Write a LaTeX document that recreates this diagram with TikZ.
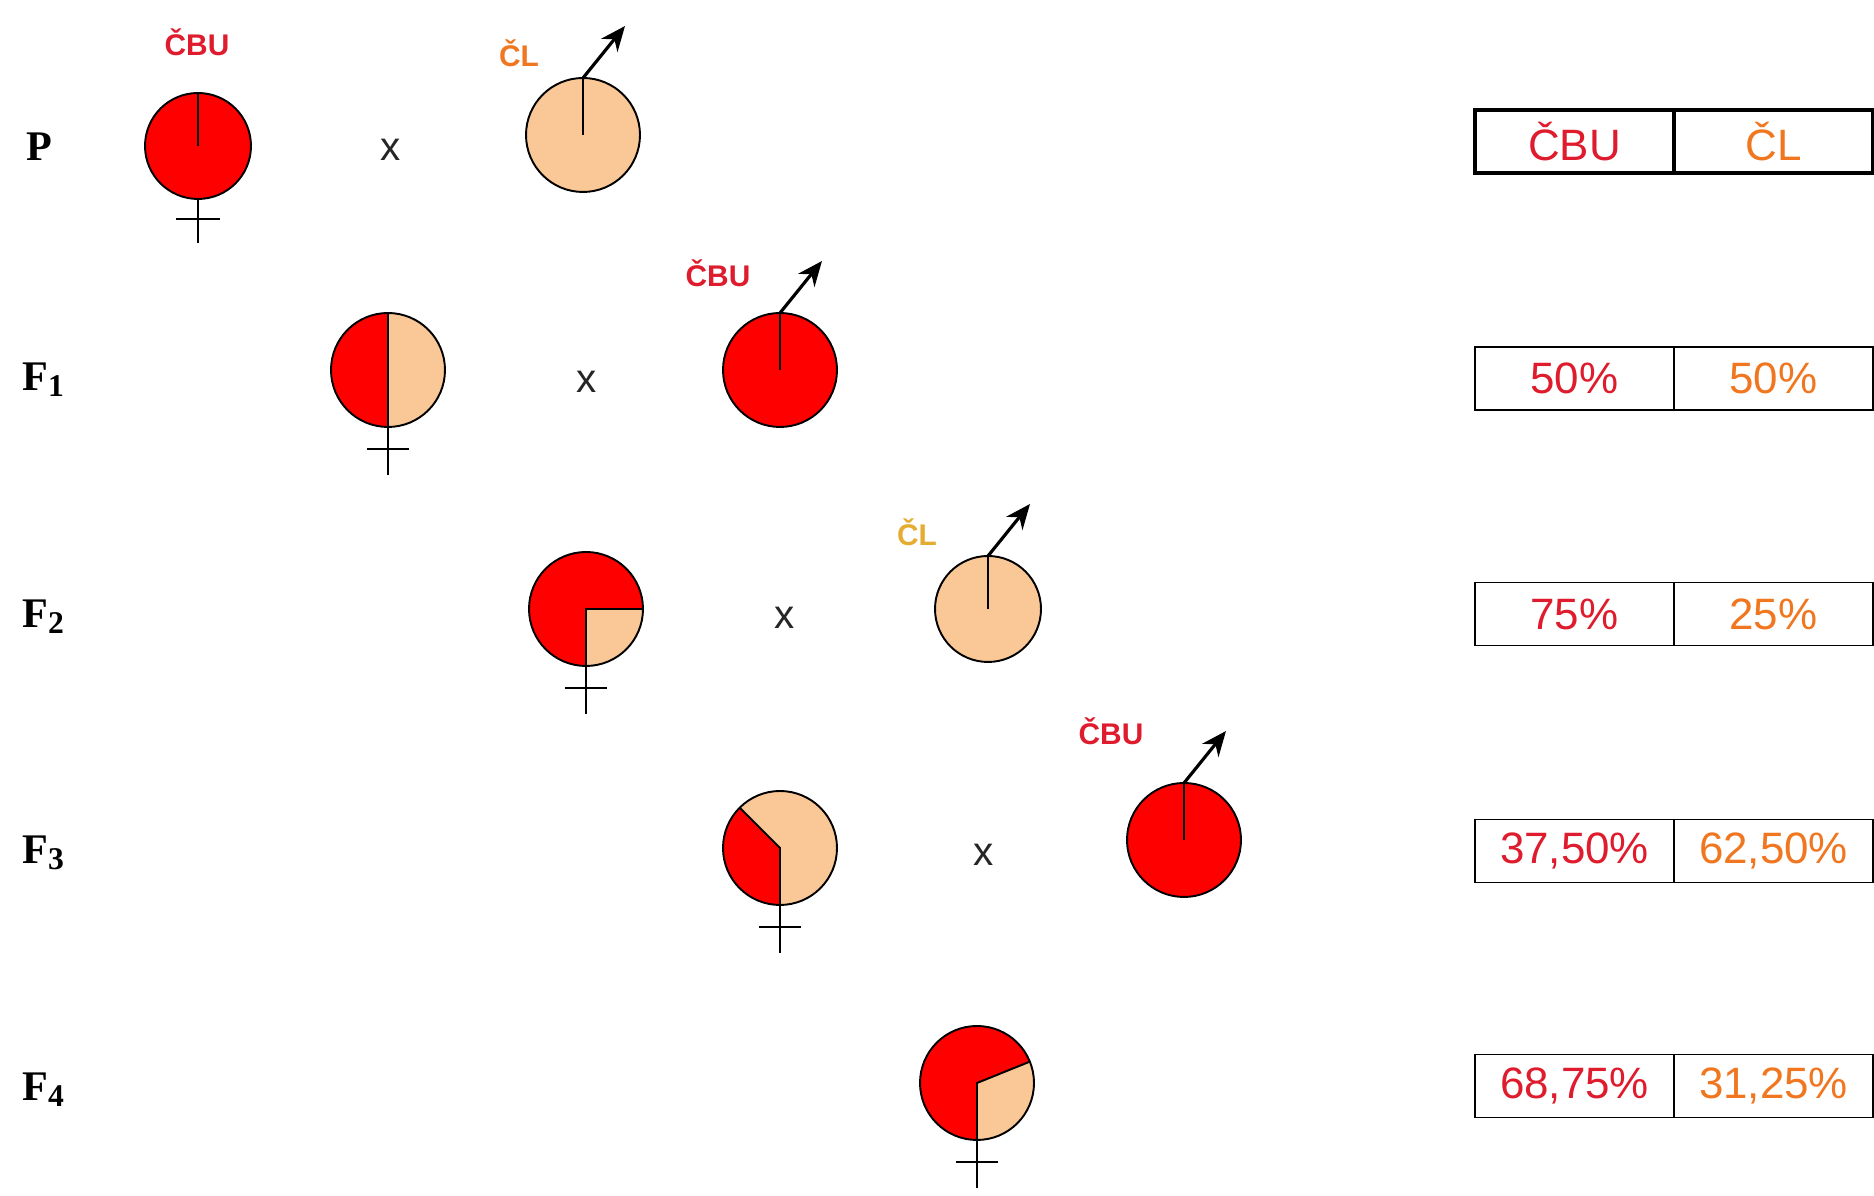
\documentclass[tikz,border=0pt]{standalone}
\usepackage{fontspec}
\setmainfont{Liberation Serif}
\setsansfont{Liberation Sans}
\usepackage{tikz}
\usetikzlibrary{arrows.meta,calc}

\definecolor{cbured}{RGB}{255,0,0}
\definecolor{clpeach}{RGB}{250,200,150}
\definecolor{cbutext}{RGB}{222,28,45}
\definecolor{cltext}{RGB}{240,118,32}
\definecolor{clgold}{RGB}{228,172,48}

\newcommand{\gen}[1]{\raisebox{-0.3ex}{\fontsize{18}{18}\selectfont\bfseries #1}}

\tikzset{
  pie/.style={circle, inner sep=0pt, outer sep=0pt, minimum size=2.28cm},
  rim/.style={draw=black, line width=1.1pt},
  sign/.style={black, line width=1.2pt},
  male/.style={black, line width=1.8pt, -{Stealth[length=0.5cm,width=0.42cm]}},
  rowlab/.style={anchor=west, inner sep=0pt, font=\rmfamily\bfseries\fontsize{24}{24}\selectfont},
  tag/.style={font=\sffamily\bfseries\fontsize{17}{17}\selectfont},
  cross/.style={text=black!85, font=\sffamily\fontsize{23}{23}\selectfont},
  cell/.style={draw, line width=1.1pt, minimum width=3.98cm, minimum height=1.26cm,
    inner sep=0pt, font=\sffamily\fontsize{25}{25}\selectfont}
}

\begin{document}
\begin{tikzpicture}[x=0.02cm,y=0.02cm]
    \useasboundingbox (0,0) rectangle (1874,1196);

    % generations
    \node[rowlab] (lp) at (26,1049) {P};
    \foreach \nm/\k/\yy in {la/1/816, lb/2/579, lc/3/343, ld/4/106}
      \node[rowlab] (\nm) at (22,\yy) {F\gen{\k}};

    % P female
    \node[pie, rim, fill=cbured, minimum size=2.12cm] (pf) at (198,1050) {};
    \draw[rim] (pf.north) -- (pf.center);
    \draw[sign] (pf.south) -- ++(0,-44);
    \draw[sign] ($(pf.south)+(-22,-20)$) -- ++(44,0);

    % females F1 - F4
    \foreach \nm/\cx/\cy/\ang in {fa/388/826/90, fb/586/587/0, fc/780/348/135, fd/977/113/22.5} {
      \node[pie, fill=cbured] (\nm) at (\cx,\cy) {};
      \fill[clpeach] (\nm.center) -- (\nm.south) arc[start angle=-90, end angle=\ang, radius=1.14cm] -- cycle;
      \draw[rim] (\nm.center) circle[radius=1.14cm];
      \draw[rim] (\nm.south) -- (\nm.center) -- (\nm.\ang);
      \draw[sign] (\nm.south) -- ++(0,-48);
      \draw[sign] ($(\nm.south)+(-21,-22)$) -- ++(42,0);
    }

    % males
    \foreach \nm/\cx/\cy/\col/\sz in {pm/583/1061/clpeach/2.28cm, ma/780/826/cbured/2.28cm,
        mb/988/587/clpeach/2.12cm, mc/1184/356/cbured/2.28cm} {
      \node[pie, rim, fill=\col, minimum size=\sz] (\nm) at (\cx,\cy) {};
      \draw[rim] (\nm.north) -- (\nm.center);
      \draw[male] (\nm.north) -- ++(42,52);
    }

    % labels above the circles
    \node[tag, text=cbutext] (tpf) at (197,1154) {ČBU};
    \node[tag, text=cltext] (tpm) at (519,1143) {ČL};
    \node[tag, text=cbutext] (tma) at (718,923) {ČBU};
    \node[tag, text=clgold] (tmb) at (917,664) {ČL};
    \node[tag, text=cbutext] (tmc) at (1111,465) {ČBU};

    % crossings
    \node[cross] (xp) at (391,1046) {x};
    \node[cross] (xa) at (587,814) {x};
    \node[cross] (xb) at (785,578) {x};
    \node[cross] (xc) at (984,341) {x};

    % table
    \node[cell, line width=2.8pt, text=cbutext] (tbp) at (1574.5,1054.5) {ČBU};
    \node[cell, line width=2.8pt, text=cltext] (tlp) at (1773.5,1054.5) {ČL};
    \foreach \nm/\yy/\a/\b in {a/817.5/50\%/50\%, b/582/75\%/25\%, c/345/{37,50\%}/{62,50\%}, d/110/{68,75\%}/{31,25\%}} {
      \node[cell, text=cbutext] (tb\nm) at (1574.5,\yy) {\a};
      \node[cell, text=cltext] (tl\nm) at (1773.5,\yy) {\b};
    }

\end{tikzpicture}
\end{document}
